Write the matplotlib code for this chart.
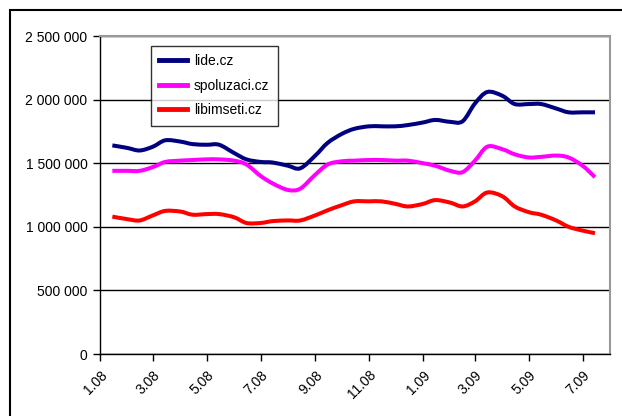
import matplotlib
matplotlib.use("Agg")
import matplotlib.pyplot as plt
import matplotlib.dates as mdates
from matplotlib.patches import Rectangle, PathPatch
from matplotlib.path import Path
from matplotlib.lines import Line2D
from matplotlib.ticker import FuncFormatter, MultipleLocator
import numpy as np
import pandas as pd

plt.rcParams['font.family'] = ['Liberation Sans', 'DejaVu Sans']

dates = ["2008-01-15", "2008-02-01", "2008-02-15", "2008-03-01", "2008-03-15",
         "2008-04-01", "2008-04-15", "2008-05-01", "2008-05-15", "2008-06-01",
         "2008-06-15", "2008-07-01", "2008-07-15", "2008-08-01", "2008-08-15",
         "2008-09-01", "2008-09-15", "2008-10-01", "2008-10-15", "2008-11-01",
         "2008-11-15", "2008-12-01", "2008-12-15", "2009-01-01", "2009-01-15",
         "2009-02-01", "2009-02-15", "2009-03-01", "2009-03-15", "2009-04-01",
         "2009-04-15", "2009-05-01", "2009-05-15", "2009-06-01", "2009-06-15",
         "2009-07-01", "2009-07-15"]

lide = [1640000, 1620000, 1600000, 1630000, 1680000, 1670000, 1650000, 1645000,
        1645000, 1580000, 1530000, 1510000, 1505000, 1480000, 1460000, 1560000,
        1660000, 1730000, 1770000, 1790000, 1790000, 1790000, 1800000, 1820000,
        1840000, 1825000, 1830000, 1970000, 2060000, 2030000, 1965000, 1965000,
        1965000, 1930000, 1900000, 1900000, 1900000]

spoluzaci = [1440000, 1440000, 1440000, 1470000, 1510000, 1520000, 1525000, 1530000,
             1530000, 1520000, 1490000, 1400000, 1340000, 1290000, 1300000, 1410000,
             1490000, 1515000, 1520000, 1525000, 1525000, 1520000, 1520000, 1500000,
             1480000, 1440000, 1430000, 1520000, 1630000, 1610000, 1570000, 1545000,
             1550000, 1560000, 1545000, 1480000, 1390000]

libimseti = [1080000, 1060000, 1050000, 1090000, 1125000, 1120000, 1095000, 1100000,
             1100000, 1075000, 1030000, 1030000, 1045000, 1050000, 1050000, 1090000,
             1130000, 1170000, 1200000, 1200000, 1200000, 1180000, 1160000, 1180000,
             1210000, 1190000, 1160000, 1200000, 1270000, 1240000, 1160000, 1115000,
             1095000, 1050000, 1000000, 970000, 950000]

series_names = ["lide.cz", "spoluzaci.cz", "libimseti.cz"]
series_colors = ["#000080", "#FF00FF", "#FF0000"]

tick_dates = ["2008-01-01", "2008-03-01", "2008-05-01", "2008-07-01", "2008-09-01",
              "2008-11-01", "2009-01-01", "2009-03-01", "2009-05-01", "2009-07-01"]
tick_labels = ["1.08", "3.08", "5.08", "7.08", "9.08", "11.08", "1.09", "3.09", "5.09", "7.09"]

xnum = mdates.date2num(pd.to_datetime(dates).to_pydatetime())


def smooth_path(xs, ys):
    """Excel-style smoothed line: cubic Bezier segments through every data point."""
    xs = np.asarray(xs, float)
    ys = np.asarray(ys, float)
    n = len(xs)
    verts = [(xs[0], ys[0])]
    codes = [Path.MOVETO]
    for i in range(n - 1):
        p0 = (xs[max(i - 1, 0)], ys[max(i - 1, 0)])
        p1 = (xs[i], ys[i])
        p2 = (xs[i + 1], ys[i + 1])
        p3 = (xs[min(i + 2, n - 1)], ys[min(i + 2, n - 1)])
        c1 = (p1[0] + (p2[0] - p0[0]) / 6, p1[1] + (p2[1] - p0[1]) / 6)
        c2 = (p2[0] - (p3[0] - p1[0]) / 6, p2[1] - (p3[1] - p1[1]) / 6)
        verts += [c1, c2, p2]
        codes += [Path.CURVE4] * 3
    return Path(verts, codes)


fig = plt.figure(figsize=(6.22, 4.16), dpi=100)
W, H = 622, 416
ax = fig.add_axes([100 / W, (H - 354) / H, 510 / W, 318 / H])

handles = []
for vals, name, col in zip([lide, spoluzaci, libimseti], series_names, series_colors):
    patch = PathPatch(smooth_path(xnum, vals), facecolor='none', edgecolor=col,
                      lw=2.9, joinstyle='round', capstyle='butt', zorder=3)
    ax.add_patch(patch)
    handles.append(Line2D([], [], color=col, lw=3.5, label=name))

ax.set_ylim(0, 2500000)
ax.set_xlim(mdates.date2num(pd.Timestamp("2008-01-01")), mdates.date2num(pd.Timestamp("2009-08-01")))
ax.yaxis.set_major_locator(MultipleLocator(500000))
ax.yaxis.set_major_formatter(FuncFormatter(lambda v, p: f"{int(v):,}".replace(",", " ")))
ax.set_xticks(mdates.date2num(pd.to_datetime(tick_dates).to_pydatetime()))
ax.set_xticklabels(tick_labels, rotation=45, ha='right', va='top', rotation_mode='anchor')

ax.grid(axis='y', color='black', lw=1.0, zorder=1)
ax.set_axisbelow(True)
for s in ['top', 'right']:
    ax.spines[s].set_color('#999999')
    ax.spines[s].set_linewidth(1.5)
for s in ['left', 'bottom']:
    ax.spines[s].set_color('black')
    ax.spines[s].set_linewidth(1.0)

ax.tick_params(axis='both', direction='out', length=5, width=1, colors='black',
               labelsize=10, labelcolor='black')
ax.tick_params(axis='y', pad=4)
ax.tick_params(axis='x', pad=5)

leg = ax.legend(handles=handles, loc='upper left', bbox_to_anchor=(151 / W, (H - 46) / H),
                bbox_transform=fig.transFigure, frameon=True, fancybox=False,
                shadow=False, fontsize=10, handlelength=2.0, handletextpad=0.5,
                labelspacing=0.75, borderpad=0.6, borderaxespad=0)
leg.get_frame().set_edgecolor('black')
leg.get_frame().set_linewidth(1.0)

# outer chart border
fig.patches.append(Rectangle((10 / W, -0.1), 1.2, (H - 10) / H + 0.1,
                             transform=fig.transFigure, fill=False,
                             edgecolor='black', lw=1.5))

fig.savefig("out.png", dpi=100)
